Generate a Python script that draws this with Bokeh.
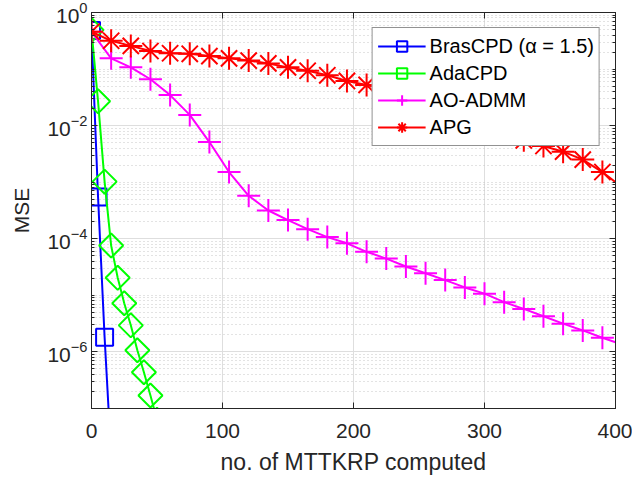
import numpy as np
from bokeh.plotting import figure
from bokeh.models import (FixedTicker, LinearAxis, LogAxis, Legend, LegendItem,
                          Range1d, LogTickFormatter)
from bokeh.embed import file_html
from bokeh.resources import INLINE

# ---- data: x = no. of MTTKRP computed, values = log10(MSE) ----
bras_x = [0, 5, 10, 15]
bras_log10_mse = [-0.32, -3.26, -5.74, -7.84]

ada_x = [0, 5, 10, 15, 20, 25, 30, 35, 40, 45, 50]
ada_log10_mse = [-0.31, -1.57, -2.99, -4.12, -4.69, -5.14, -5.53, -5.97, -6.36, -6.77, -7.20]

admm_x = [0, 15, 30, 45, 60, 75, 90, 105, 120, 135, 150, 165, 180, 195, 210, 225,
          240, 255, 270, 285, 300, 315, 330, 345, 360, 375, 390, 400]
admm_log10_mse = [-0.34, -0.81, -0.97, -1.18, -1.46, -1.81, -2.29, -2.82, -3.24, -3.50,
                  -3.67, -3.83, -3.97, -4.08, -4.23, -4.35, -4.49, -4.61, -4.73, -4.86,
                  -4.97, -5.12, -5.24, -5.37, -5.50, -5.62, -5.75, -5.83]

apg_x = [0, 15, 30, 45, 60, 75, 90, 105, 120, 135, 150, 165, 180, 195, 210, 225,
         240, 255, 270, 285, 300, 315, 330, 345, 360, 375, 390, 400]
apg_log10_mse = [-0.34, -0.50, -0.59, -0.68, -0.72, -0.73, -0.77, -0.81, -0.85, -0.90,
                 -0.97, -1.03, -1.11, -1.21, -1.28, -1.38, -1.49, -1.61, -1.73, -1.86,
                 -1.99, -2.13, -2.26, -2.36, -2.46, -2.60, -2.82, -3.00]

labels = ["BrasCPD (\u03b1 = 1.5)", "AdaCPD", "AO-ADMM", "APG"]
x_tick_values = [0, 100, 200, 300, 400]
y_tick_values = [1e-6, 1e-4, 1e-2, 1e0]

# ---- styling ----
FONT = "Liberation Sans"
TXT = "#262626"
C_BLUE, C_GREEN, C_MAG, C_RED = "#0000ff", "#00ff00", "#ff00ff", "#ff0000"

p = figure(x_range=Range1d(0, 400), y_range=Range1d(1e-7, 1), y_axis_type="log",
           frame_width=524, frame_height=396,
           min_border_left=91, min_border_top=12, min_border_right=17, min_border_bottom=70,
           output_backend="svg", toolbar_location=None,
           background_fill_color="white", border_fill_color="white")
p.outline_line_color = TXT
p.outline_line_width = 1

def to_mse(v):
    return [10.0 ** t for t in v]

r_bras_l = p.line(bras_x, to_mse(bras_log10_mse), line_color=C_BLUE, line_width=2)
r_bras_m = p.scatter(bras_x, to_mse(bras_log10_mse), marker="square", size=17,
                     line_color=C_BLUE, fill_color=None, line_width=2)

r_ada_l = p.line(ada_x, to_mse(ada_log10_mse), line_color=C_GREEN, line_width=2)
r_ada_m = p.scatter(ada_x, to_mse(ada_log10_mse), marker="square", size=17, angle=np.pi / 4,
                    line_color=C_GREEN, fill_color=None, line_width=2)

r_admm_l = p.line(admm_x, to_mse(admm_log10_mse), line_color=C_MAG, line_width=2)
r_admm_m = p.scatter(admm_x[:-1], to_mse(admm_log10_mse)[:-1], marker="cross", size=23,
                     line_color=C_MAG, line_width=2)

r_apg_l = p.line(apg_x, to_mse(apg_log10_mse), line_color=C_RED, line_width=2)
r_apg_m = p.scatter(apg_x[:-1], to_mse(apg_log10_mse)[:-1], marker="asterisk", size=23,
                    line_color=C_RED, line_width=2)

# ---- ticks / grids ----
minor_y = [m * 10.0 ** k for k in range(-7, 0) for m in range(1, 10)
           if not (m == 1 and k % 2 == 0)]
x_ticker = FixedTicker(ticks=x_tick_values, minor_ticks=[])
y_ticker = FixedTicker(ticks=y_tick_values, minor_ticks=minor_y)

def style_axis(ax, show_labels, label_size="22px"):
    ax.axis_line_color = TXT
    ax.major_tick_line_color = TXT
    ax.minor_tick_line_color = TXT
    ax.major_tick_in = 6
    ax.major_tick_out = 0
    ax.minor_tick_in = 3
    ax.minor_tick_out = 0
    ax.major_label_text_font = FONT
    ax.major_label_text_color = TXT
    ax.major_label_text_font_size = "21px"
    ax.axis_label_text_font = FONT
    ax.axis_label_text_color = TXT
    ax.axis_label_text_font_size = label_size
    ax.axis_label_text_font_style = "normal"
    if not show_labels:
        ax.major_label_text_font_size = "1px"
        ax.major_label_text_alpha = 0
        ax.major_label_standoff = 0

xb = p.xaxis[0]
xb.ticker = x_ticker
style_axis(xb, True, "23px")
xb.axis_label = "no. of MTTKRP computed"
xb.major_label_standoff = 15
xb.axis_label_standoff = 8

yl = p.yaxis[0]
yl.ticker = y_ticker
yl.formatter = LogTickFormatter()
style_axis(yl, True, "21px")
yl.axis_label = "MSE"
yl.major_label_standoff = 4
yl.axis_label_standoff = 11

xt = LinearAxis(ticker=x_ticker)
style_axis(xt, False)
p.add_layout(xt, "above")
yr = LogAxis(ticker=y_ticker)
style_axis(yr, False)
p.add_layout(yr, "right")

p.xgrid.ticker = x_ticker
p.ygrid.ticker = y_ticker
p.xgrid.grid_line_color = "#dedede"
p.ygrid.grid_line_color = "#dedede"
p.ygrid.minor_grid_line_color = "#c6c6c6"
p.ygrid.minor_grid_line_dash = "1 3"

# ---- legend ----
legend = Legend(items=[
    LegendItem(label=labels[0], renderers=[r_bras_l, r_bras_m]),
    LegendItem(label=labels[1], renderers=[r_ada_l, r_ada_m]),
    LegendItem(label=labels[2], renderers=[r_admm_l, r_admm_m]),
    LegendItem(label=labels[3], renderers=[r_apg_l, r_apg_m]),
], location="top_right")
legend.margin = 15
legend.padding = 5
legend.spacing = 1
legend.glyph_width = 48
legend.glyph_height = 26
legend.label_height = 26
legend.label_standoff = 4
legend.label_text_font = FONT
legend.label_text_font_size = "20px"
legend.label_text_color = "black"
legend.border_line_color = TXT
legend.border_line_width = 1
legend.background_fill_color = "white"
legend.background_fill_alpha = 1.0
p.add_layout(legend, "center")

open("out.html", "w").write(file_html(p, INLINE))
